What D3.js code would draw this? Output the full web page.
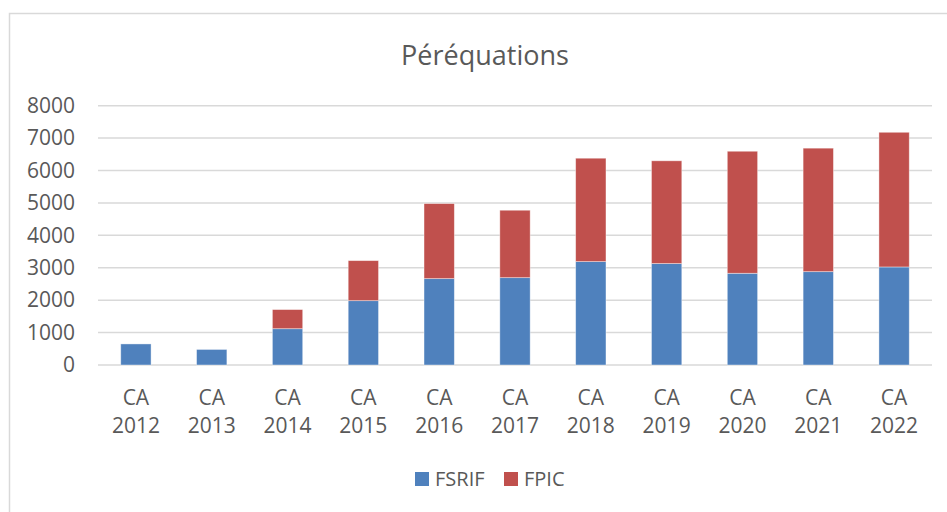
<!DOCTYPE html>
<html>
<head>
<meta charset="utf-8">
<script src="https://cdn.jsdelivr.net/npm/d3@7"></script>
<style>
  body { margin: 0; background: #fff; }
  text { font-family: "Open Sans", sans-serif; fill: #595959; }
</style>
</head>
<body>
<script>
// data
const years = ["2012", "2013", "2014", "2015", "2016", "2017", "2018", "2019", "2020", "2021", "2022"];
const fsrif = [650, 480, 1120, 1985, 2665, 2695, 3190, 3130, 2830, 2880, 3025];
const fpic  = [0, 0, 590, 1235, 2315, 2080, 3190, 3170, 3765, 3810, 4155];
const yTicks = [0, 1000, 2000, 3000, 4000, 5000, 6000, 7000, 8000];
const seriesNames = ["FSRIF", "FPIC"];
const colors = ["#4F81BD", "#C0504D"];

const width = 947, height = 512;
const plotL = 98, plotR = 932, plotT = 105.7, plotB = 365;

const svg = d3.select("body").append("svg")
    .attr("width", width)
    .attr("height", height);

// chart frame
svg.append("rect")
    .attr("x", 9.5).attr("y", 13.5)
    .attr("width", 960).attr("height", 520)
    .attr("fill", "none")
    .attr("stroke", "#D9D9D9")
    .attr("stroke-width", 1.5);

svg.append("text")
    .attr("x", 485).attr("y", 65)
    .attr("text-anchor", "middle")
    .attr("font-size", 27)
    .text("Péréquations");

const x = d3.scaleBand()
    .domain(years)
    .range([plotL, plotR])
    .paddingInner(0.6)
    .paddingOuter(0.3);

const y = d3.scaleLinear()
    .domain([0, 8000])
    .range([plotB, plotT]);

// gridlines
svg.append("g")
    .selectAll("line")
    .data(yTicks)
    .enter()
    .append("line")
    .attr("x1", plotL).attr("x2", plotR)
    .attr("y1", d => y(d)).attr("y2", d => y(d))
    .attr("stroke", "#D9D9D9")
    .attr("stroke-width", 1.5);

// y axis labels
const yAxis = svg.append("g")
    .attr("transform", `translate(${plotL - 23},0)`)
    .call(d3.axisLeft(y).tickValues(yTicks).tickFormat(d3.format("d")).tickSize(0).tickPadding(0));
yAxis.select(".domain").remove();
yAxis.selectAll("text")
    .attr("font-size", 21)
    .attr("fill", "#595959")
    .attr("font-family", "Open Sans, sans-serif");

// stacked bars
const rows = years.map((yr, i) => ({ year: yr, FSRIF: fsrif[i], FPIC: fpic[i] }));
const stacked = d3.stack().keys(seriesNames)(rows);

svg.append("g")
    .selectAll("g")
    .data(stacked)
    .enter()
    .append("g")
    .attr("fill", (d, i) => colors[i])
    .selectAll("rect")
    .data(d => d.filter(p => p[1] - p[0] > 0))
    .enter()
    .append("rect")
    .attr("x", d => x(d.data.year))
    .attr("width", x.bandwidth())
    .attr("y", d => y(d[1]))
    .attr("height", d => y(d[0]) - y(d[1]))
    .attr("stroke", "#fff")
    .attr("stroke-opacity", 0.5)
    .attr("stroke-width", 0.8);

// x labels, two lines
const xl = svg.append("g")
    .selectAll("text")
    .data(years)
    .enter()
    .append("text")
    .attr("text-anchor", "middle")
    .attr("font-size", 21)
    .attr("x", d => x(d) + x.bandwidth() / 2);
xl.append("tspan").attr("y", 405).attr("x", d => x(d) + x.bandwidth() / 2).text("CA");
xl.append("tspan").attr("y", 433).attr("x", d => x(d) + x.bandwidth() / 2).text(d => d);

// legend
const legendX = [415, 504];
const lg = svg.append("g")
    .selectAll("g")
    .data(seriesNames)
    .enter()
    .append("g")
    .attr("transform", (d, i) => `translate(${legendX[i]},472)`);
lg.append("rect")
    .attr("width", 14).attr("height", 14)
    .attr("fill", (d, i) => colors[i]);
lg.append("text")
    .attr("x", 20).attr("y", 14)
    .attr("font-size", 20)
    .text(d => d);
</script>
</body>
</html>
